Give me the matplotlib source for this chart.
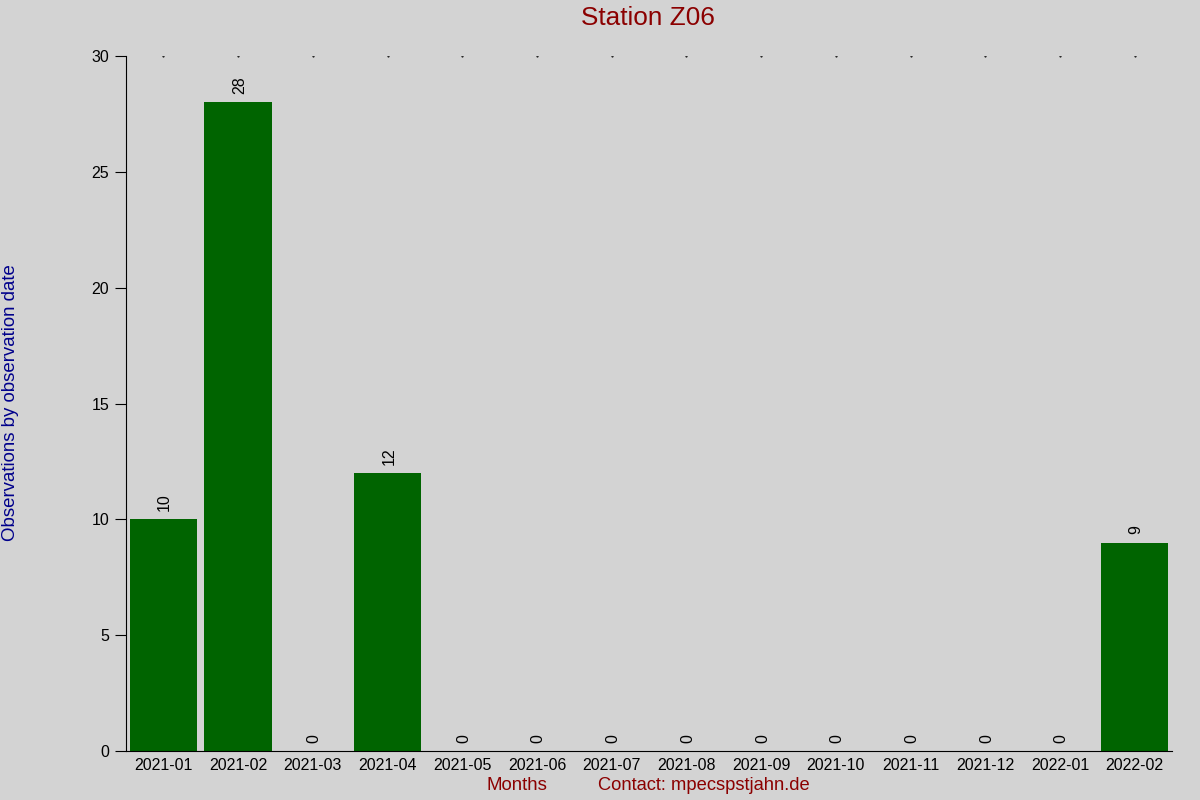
import matplotlib
matplotlib.use('Agg')
import matplotlib.pyplot as plt

plt.rcParams['font.family'] = ['Liberation Sans', 'DejaVu Sans']

# data
months = ['2021-01', '2021-02', '2021-03', '2021-04', '2021-05', '2021-06', '2021-07',
          '2021-08', '2021-09', '2021-10', '2021-11', '2021-12', '2022-01', '2022-02']
counts = [10, 28, 0, 12, 0, 0, 0, 0, 0, 0, 0, 0, 0, 9]
yticks = [0, 5, 10, 15, 20, 25, 30]

bg = '#d3d3d3'
fig = plt.figure(figsize=(12, 8), dpi=100, facecolor=bg)
ax = fig.add_axes([0.105, 0.06125, 0.8717, 0.86875], facecolor=bg)

x = list(range(len(months)))
ax.bar(x, counts, width=0.9, color='#006400')

# values above bars
for xi, v in zip(x, counts):
    ax.annotate(str(v), (xi, v), xytext=(1, 6), textcoords='offset points',
                rotation=90, ha='center', va='bottom', fontsize=11.5)

# small dots along the top
ax.plot(x, [30] * len(x), ls='none', marker='.', markersize=1, color='black')

ax.set_xlim(-0.5, 13.5)
ax.set_ylim(0, 30)
ax.set_xticks(x)
ax.set_xticklabels(months, fontsize=11.5)
ax.set_yticks(yticks)
ax.set_yticklabels([str(t) for t in yticks], fontsize=11.5)
ax.tick_params(axis='x', length=0, pad=5)
ax.tick_params(axis='y', length=8, pad=4)
ax.spines['top'].set_visible(False)
ax.spines['right'].set_visible(False)

fig.text(0.54, 0.978, 'Station Z06', ha='center', va='center', fontsize=18.8, color='#8b0000')
fig.text(0.009, 0.497, 'Observations by observation date', rotation=90, ha='center',
         va='center', fontsize=13.4, color='#00008b')
fig.text(0.431, 0.018, 'Months', ha='center', va='center', fontsize=13.4, color='#8b0000')
fig.text(0.498, 0.018, 'Contact: mpecspstjahn.de', ha='left', va='center', fontsize=13.2,
         color='#8b0000')

fig.savefig('out.png', dpi=100, facecolor=bg)
